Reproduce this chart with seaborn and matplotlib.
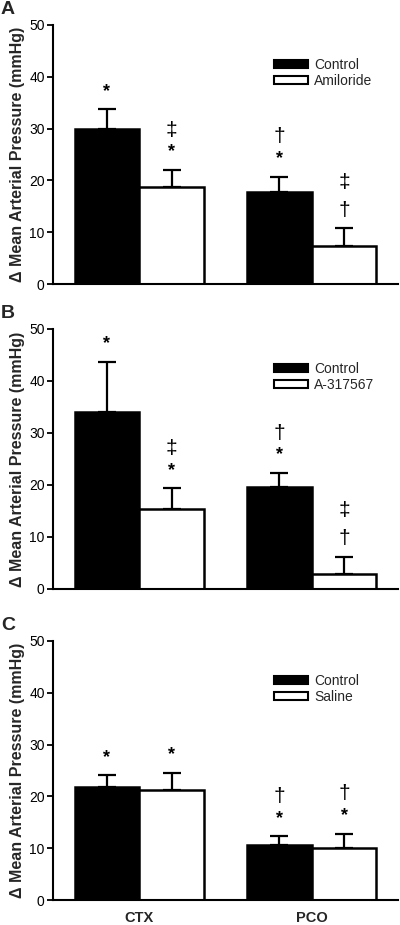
import matplotlib
matplotlib.use("Agg")
import matplotlib.pyplot as plt
import seaborn as sns
import pandas as pd
import numpy as np

sns.set_theme(style="ticks")
plt.rcParams['font.family'] = ['Liberation Sans', 'DejaVu Sans']

categories = ["CTX", "PCO"]
panel_letters = ["A", "B", "C"]
treatments = [["Control", "Amiloride"], ["Control", "A-317567"], ["Control", "Saline"]]

# mean values [CTX, PCO] per panel
control_means = [[30.0, 17.7], [34.0, 19.6], [21.8, 10.6]]
control_sem = [[3.7, 3.0], [9.7, 2.7], [2.3, 1.7]]
treat_means = [[18.7, 7.4], [15.3, 2.8], [21.2, 10.1]]
treat_sem = [[3.3, 3.4], [4.1, 3.4], [3.3, 2.7]]

# significance symbols, bottom to top
control_marks = [[["*"], ["*", "†"]], [["*"], ["*", "†"]], [["*"], ["*", "†"]]]
treat_marks = [[["*", "‡"], ["†", "‡"]], [["*", "‡"], ["†", "‡"]], [["*"], ["*", "†"]]]

yticks = [0, 10, 20, 30, 40, 50]
ylabel = "Δ Mean Arterial Pressure (mmHg)"

W, H = 400, 925
fig = plt.figure(figsize=(W / 100, H / 100), dpi=100)

axes_px = [(25, 284), (329, 589), (641, 900)]
left_px, right_px = 53, 398

for i in range(3):
    top, bot = axes_px[i]
    ax = fig.add_axes([left_px / W, 1 - bot / H, (right_px - left_px) / W, (bot - top) / H])
    df = pd.DataFrame({
        "cat": categories * 2,
        "grp": [treatments[i][0]] * 2 + [treatments[i][1]] * 2,
        "val": control_means[i] + treat_means[i],
        "err": control_sem[i] + treat_sem[i],
    })
    sns.barplot(data=df, x="cat", y="val", hue="grp", order=categories,
                hue_order=treatments[i], palette=["black", "white"],
                edgecolor="black", linewidth=1.8, width=0.75, errorbar=None,
                ax=ax, zorder=2)
    marks = control_marks[i] + treat_marks[i]
    patches = [p for p in ax.patches if p.get_height() > 0][:4]
    for p, v, e, mk in zip(patches, df["val"], df["err"], marks):
        xc = p.get_x() + p.get_width() / 2
        ax.errorbar([xc], [v], yerr=[[0], [e]], fmt="none", ecolor="black",
                    elinewidth=1.6, capsize=6.5, capthick=1.6, zorder=1)
        off = 18
        prev = None
        for s in mk:
            if prev is not None:
                off += 22 if prev == "*" else 28
            ax.annotate(s, (xc, v + e), xytext=(0, off),
                        textcoords="offset pixels",
                        ha="center", va="center",
                        fontsize=13 if s == "*" else 15,
                        fontweight="bold" if s == "*" else "normal", color="black")
            prev = s
    ax.set_ylim(0, 50)
    ax.set_xlim(-0.5, 1.5)
    ax.set_yticks(yticks)
    ax.tick_params(axis="y", direction="out", length=4, width=1.3, labelsize=10, pad=2, colors="black")
    ax.tick_params(axis="x", length=0, labelsize=10.5, pad=8)
    if i == 2:
        ax.set_xticks(range(len(categories)))
        ax.set_xticklabels(categories, fontweight="bold")
    else:
        ax.set_xticklabels([])
    ax.set_xlabel("")
    ax.set_ylabel(ylabel, fontweight="bold", fontsize=11.5, labelpad=3)
    for s in ["top", "right"]:
        ax.spines[s].set_visible(False)
    for s in ["left", "bottom"]:
        ax.spines[s].set_linewidth(1.5)
        ax.spines[s].set_color("black")
    leg = ax.legend(loc="upper left", bbox_to_anchor=(0.625, 0.895), frameon=False,
                    fontsize=10, handlelength=2.4, handleheight=0.5,
                    handletextpad=0.5, labelspacing=0.15, borderaxespad=0)
    for h in leg.legend_handles:
        h.set_linewidth(1.5)
        h.set_edgecolor("black")
    fig.text(1 / W, 1 - (top - 15) / H, panel_letters[i], fontsize=14,
             fontweight="bold", ha="left", va="center")

fig.savefig("out.png", dpi=100)
